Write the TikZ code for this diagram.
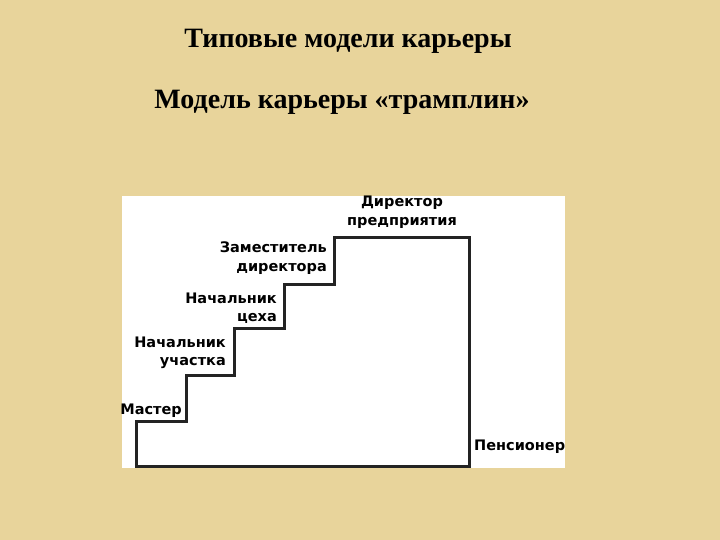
\documentclass[tikz,border=0pt]{standalone}
\usepackage{fontspec}
\usepackage{tkz-euclide}
\usepackage{tikz}
\setmainfont{Liberation Serif}
\newfontfamily\stepfont{DejaVu Sans}
\definecolor{papyrus}{RGB}{232,212,155}
\definecolor{inkline}{RGB}{35,35,35}

\begin{document}
\begin{tikzpicture}[x=1pt, y=-1pt,
    steplabel/.style={font=\stepfont\bfseries\fontsize{14.5}{18.5}\selectfont, inner sep=0pt, text=black},
    heading/.style={font=\bfseries\fontsize{28}{32}\selectfont, inner sep=0pt, text=black, anchor=base}]
    \useasboundingbox (0,0) rectangle (720,540);
    \fill[papyrus] (0,0) rectangle (720,540);
    \fill[white] (122,196) rectangle (565,468);
    \node[heading] (title) at (348,48) {Типовые модели карьеры};
    \node[heading] (subtitle) at (342,109) {Модель карьеры «трамплин»};
    \tkzDefPoints{136/466/A,136/421/B,186/421/C,186/375/D,234/375/E,234/328/F,284/328/G,284/284/H,334/284/I,334/237/J,469/237/K,469/466/L}
    \tkzDrawPolygon[line width=3pt, color=inkline, line join=miter](A,...,L)
    \node[steplabel, anchor=east] (master) at (182,411) {Мастер};
    \node[steplabel, anchor=east, align=right] (uchastok) at (226,353) {Начальник\\участка};
    \node[steplabel, anchor=east, align=right] (tseh) at (277,308) {Начальник\\цеха};
    \node[steplabel, anchor=east, align=right] (zam) at (327,258) {Заместитель\\директора};
    \node[steplabel, align=center] (direktor) at (402,212) {Директор\\предприятия};
    \node[steplabel, anchor=west] (pensioner) at (474,447) {Пенсионер};
\end{tikzpicture}
\end{document}
